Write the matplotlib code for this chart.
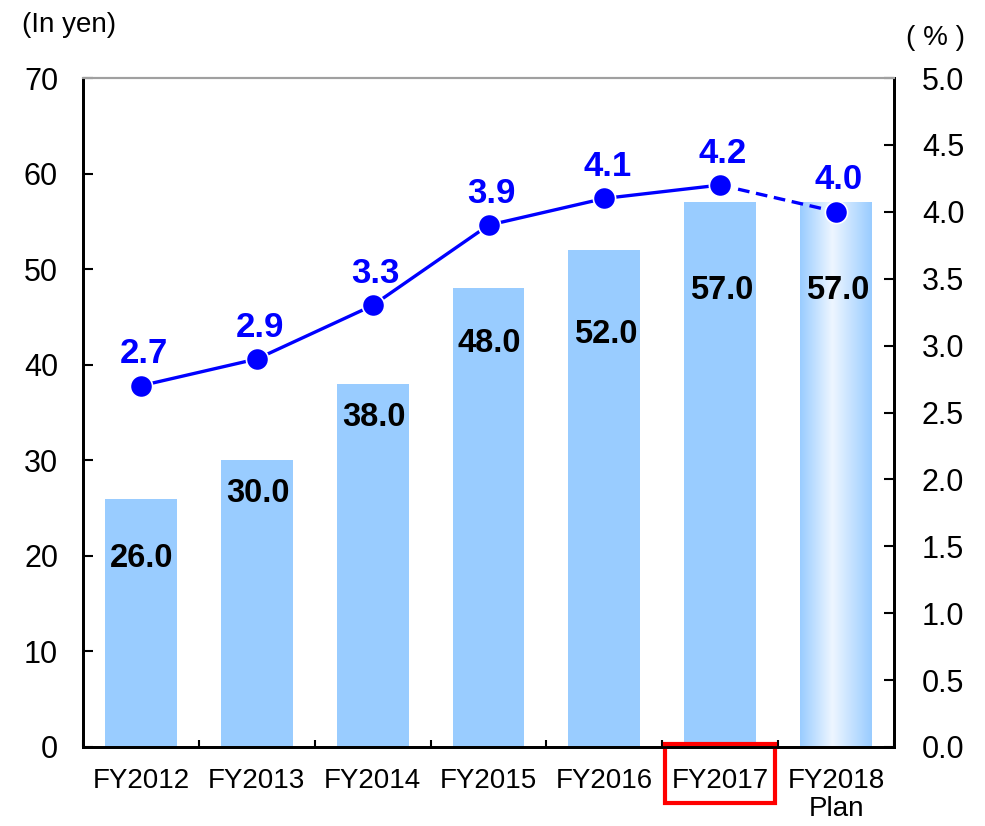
import matplotlib
matplotlib.use("Agg")
import matplotlib.pyplot as plt
import numpy as np
from matplotlib.colors import LinearSegmentedColormap
from matplotlib.patches import Rectangle
import matplotlib.transforms as mtransforms

plt.rcParams['font.family'] = ['Liberation Sans', 'Noto Sans CJK JP', 'DejaVu Sans']

# Dividend per share (yen) and payout-style ratio (%)
categories = ["FY2012", "FY2013", "FY2014", "FY2015", "FY2016", "FY2017", "FY2018\nPlan"]
dividends = [26.0, 30.0, 38.0, 48.0, 52.0, 57.0, 57.0]
ratios = [2.7, 2.9, 3.3, 3.9, 4.1, 4.2, 4.0]
bar_label_y = [19.7, 26.5, 34.5, 42.2, 43.2, 47.8, 47.8]
left_ticks = [0, 10, 20, 30, 40, 50, 60, 70]
right_ticks = [0.0, 0.5, 1.0, 1.5, 2.0, 2.5, 3.0, 3.5, 4.0, 4.5, 5.0]

BAR = "#99CCFF"
LINE = "#0000FF"
FS = 20
TICK_FS = 22

fig = plt.figure(figsize=(9.85, 8.26), dpi=100)
ax = fig.add_axes([83 / 985, 1 - 747 / 826, (894 - 83) / 985, (747 - 78) / 826])
ax2 = ax.twinx()

x = np.arange(len(categories))
width = 0.62

# Bars: the plan year gets a shaded (gradient) fill
bars = ax.bar(x[:-1], dividends[:-1], width=width, color=BAR, zorder=2)
last = ax.bar(x[-1:], dividends[-1:], width=width, color="none", zorder=2)[0]
grad_cmap = LinearSegmentedColormap.from_list(
    "g", [(0.0, BAR), (0.45, "#EEF6FF"), (1.0, BAR)])
grad = np.linspace(0, 1, 256).reshape(1, -1)
bx0 = last.get_x()
ax.imshow(grad, cmap=grad_cmap, aspect="auto", zorder=2,
          extent=[bx0, bx0 + width, 0, dividends[-1]], interpolation="bicubic")

for xi, v, ly in zip(x, dividends, bar_label_y):
    ax.text(xi + 0.01, ly, f"{v:.1f}", ha="center", va="center",
            fontsize=23.5, fontweight="bold", color="black", zorder=5)

ax.set_xlim(-0.5, len(categories) - 0.5)
ax.set_ylim(0, 70)
ax.set_yticks(left_ticks)
ax.set_xticks(x)
ax.set_xticklabels(categories, fontsize=FS, linespacing=1.1)
ax.set_xticks(np.arange(-0.5, len(categories), 1.0), minor=True)
ax.tick_params(axis="x", which="major", length=0, pad=15)
ax.tick_params(axis="x", which="minor", direction="in", length=5, width=1.5)
ax.tick_params(axis="y", direction="in", length=7, width=1.5,
               labelsize=TICK_FS, pad=18)

for s in ["left", "bottom", "right"]:
    ax.spines[s].set_linewidth(2)
    ax.spines[s].set_color("black")
    ax2.spines[s].set_linewidth(2)
ax.spines["top"].set_color("#A0A0A0")
ax.spines["top"].set_linewidth(1.5)
ax2.spines["top"].set_color("#A0A0A0")
ax2.spines["top"].set_linewidth(1.5)

# Ratio line: solid for actuals, dashed toward the plan
ax2.plot(x[:-1], ratios[:-1], color=LINE, lw=2.4, zorder=3)
ax2.plot(x[-2:], ratios[-2:], color=LINE, lw=2.4, ls=(0, (3.5, 2)), zorder=3)
ax2.plot(x, ratios, ls="none", marker="o", ms=16, mfc=LINE, mec="white",
         mew=1.2, zorder=4)
for xi, r in zip(x, ratios):
    ax2.annotate(f"{r:.1f}", (xi, r), xytext=(2, 23), textcoords="offset points",
                 ha="center", va="center", fontsize=25, fontweight="bold",
                 color=LINE)

ax2.set_ylim(0, 5.0)
ax2.set_yticks(right_ticks)
ax2.set_yticklabels([f"{t:.1f}" for t in right_ticks])
ax2.tick_params(axis="y", direction="in", length=7, width=1.5,
                labelsize=TICK_FS, pad=20)

ax.set_zorder(1)
ax2.set_zorder(2)
ax2.patch.set_visible(False)

fig.text(22 / 985, 1 - 25 / 826, "(In yen)", fontsize=FS, ha="left", va="center")
fig.text(935 / 985, 1 - 38 / 826, "( % )", fontsize=20, ha="center", va="center")

# Highlight box around the current fiscal year label
trans = mtransforms.blended_transform_factory(ax.transData, ax.transAxes)
ax.add_patch(Rectangle((5 - 0.475, -0.083), 0.95, 0.0875, transform=trans,
                       fill=False, edgecolor="#FF0000", lw=3, clip_on=False,
                       zorder=10))

fig.savefig("out.png", dpi=100)
